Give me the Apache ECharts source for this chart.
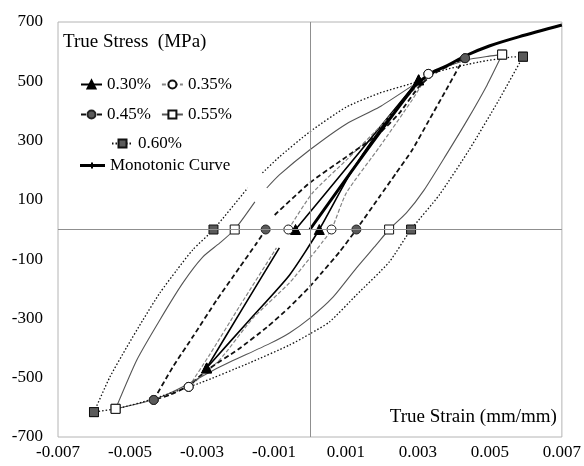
<!DOCTYPE html>
<html>
<head>
<meta charset="utf-8">
<script src="https://cdn.jsdelivr.net/npm/echarts@6/dist/echarts.min.js"></script>
<style>
  html, body { margin: 0; padding: 0; background: #fff; }
  #chart { width: 584px; height: 466px; }
</style>
</head>
<body>
<div id="chart"></div>
<script>
// Cyclic stress-strain hysteresis loops, strain amplitudes 0.30% .. 0.60%.
// Each loop is split into its unloading (down) and reloading (up) branch,
// points are [true strain, true stress in MPa]. null marks a gap in the record.
const GAP = null;

const xTickLabels = ['-0.007', '-0.005', '-0.003', '-0.001', '0.001', '0.003', '0.005', '0.007'];
const yTickLabels = ['-700', '-500', '-300', '-100', '100', '300', '500', '700'];

const monotonic = [[0, 0], [0.0029, 482], [0.0034, 530], [0.0038, 552], [0.00434, 587], [0.005, 620], [0.0058, 650], [0.007, 690]];

const down030 = [[0.00302, 505], [0.00193, 334], [0.0011, 184], [0.00026, 0], [-0.00057, -154], [-0.00168, -305], [-0.00287, -467]];
const up030 = [[-0.00287, -467], [-0.0019, -272], [-0.00085, -62], GAP, [-0.0004, 0], [0.0011, 220], [0.0022, 383], [0.00302, 505]];

const down035 = [[0.00329, 525], [0.00284, 437], [0.00193, 278], [0.00101, 123], [0.0006, 0], [0.00035, -42], [0, -96], [-0.00057, -180], [-0.00159, -300], [-0.00251, -440], [-0.00337, -531]];
const up035 = [[-0.00337, -531], [-0.00279, -423], [-0.00195, -258], [-0.00093, -62], GAP, [-0.0006, 0], [0.00007, 123], [0.00101, 234], [0.00193, 345], [0.00295, 480], [0.00329, 525]];

const down045 = [[0.00431, 578], [0.00414, 548], [0.00378, 470], [0.00331, 369], [0.00284, 268], [0.0024, 191], [0.00193, 110], [0.00129, 0], [0.00082, -76], [0.00035, -143], [0, -192], [-0.00057, -262], [-0.0012, -330], [-0.002, -405], [-0.00287, -475], [-0.00337, -527], [-0.0039, -558], [-0.00434, -575]];
const up045 = [[-0.00434, -575], [-0.00381, -464], [-0.00326, -363], [-0.00259, -238], [-0.00195, -127], [-0.00148, -46], [-0.00123, 0], GAP, [-0.00098, 49], [-0.00001, 157], [0.00101, 245], [0.00193, 325], [0.00248, 392], [0.00302, 480], [0.0034, 522], [0.0039, 555], [0.00431, 578]];

const down055 = [[0.00534, 590], [0.00492, 487], [0.00437, 369], [0.00378, 251], [0.00317, 133], [0.00268, 56], [0.0022, 0], [0.00184, -52], [0.00129, -130], [0.00062, -231], [0, -299], [-0.00057, -349], [-0.00112, -385], [-0.00251, -464], [-0.00337, -520], [-0.0039, -552], [-0.00437, -575], [-0.0054, -605]];
const up055 = [[-0.0054, -605], [-0.00481, -440], [-0.00417, -305], [-0.00353, -180], [-0.00298, -93], [-0.00251, -46], [-0.00209, 0], [-0.00153, 93], GAP, [-0.0012, 140], [-0.00085, 184], [-0.00001, 268], [0.00101, 356], [0.00193, 413], [0.00301, 498], [0.00359, 538], [0.00434, 572], [0.00498, 585], [0.00534, 590]];

const down060 = [[0.00592, 583], [0.00525, 437], [0.00442, 268], [0.00359, 116], [0.00281, 0], [0.0022, -110], [0.00129, -221], [0.00054, -312], [0, -352], [-0.00057, -390], [-0.00168, -450], [-0.00306, -518], [-0.00445, -575], [-0.00528, -602], [-0.006, -616]];
const up060 = [[-0.006, -616], [-0.00556, -498], [-0.00509, -397], [-0.00464, -305], [-0.00417, -214], [-0.0037, -137], [-0.00326, -69], [-0.00268, 0], [-0.00173, 140], GAP, [-0.00132, 191], [-0.00085, 245], [-0.00001, 329], [0.00101, 413], [0.00193, 460], [0.00304, 501], [0.00351, 531], [0.0047, 565], [0.00561, 582], [0.00592, 583]];

const FONT = 'Liberation Serif';

// line / marker look of every strain amplitude
const looks = {
  '0.60%': { line: { color: '#111', width: 1.3, type: [1.5, 2] }, symbol: 'rect', size: 9, item: { color: '#5a5a5a', borderColor: '#111', borderWidth: 1 } },
  '0.55%': { line: { color: '#555', width: 1.1, type: 'solid' }, symbol: 'rect', size: 9, item: { color: '#fff', borderColor: '#111', borderWidth: 1 } },
  '0.45%': { line: { color: '#111', width: 1.8, type: [5, 3] }, symbol: 'circle', size: 9, item: { color: '#5a5a5a', borderColor: '#222', borderWidth: 1 } },
  '0.35%': { line: { color: '#858585', width: 1.2, type: [4, 2] }, symbol: 'circle', size: 9, item: { color: '#fff', borderColor: '#111', borderWidth: 1 } },
  '0.30%': { line: { color: '#000', width: 1.6, type: 'solid' }, symbol: 'triangle', size: 10, item: { color: '#000', borderColor: '#000', borderWidth: 1 } }
};

// markers sit on the loop tips and on the zero-stress crossings
function branch(name, pts) {
  const lk = looks[name];
  const last = pts.length - 1;
  return {
    name: name,
    type: 'line',
    smooth: 0.2,
    connectNulls: false,
    symbol: lk.symbol,
    symbolSize: lk.size,
    itemStyle: lk.item,
    lineStyle: lk.line,
    emphasis: { disabled: true },
    animation: false,
    data: pts.map((p, i) => p === null
      ? { value: ['-', '-'], symbol: 'none' }
      : { value: p, symbol: (i === 0 || i === last || p[1] === 0) ? lk.symbol : 'none' })
  };
}

const series = [
  {
    type: 'line', name: 'zero', data: [], silent: true, z: 1,
    markLine: {
      silent: true, animation: false, symbol: ['none', 'none'], label: { show: false },
      lineStyle: { color: '#8f8f8f', width: 1, type: 'solid' },
      data: [{ xAxis: 0 }, { yAxis: 0 }]
    }
  },
  branch('0.30%', down030), branch('0.30%', up030),
  branch('0.35%', down035), branch('0.35%', up035),
  branch('0.45%', down045), branch('0.45%', up045),
  branch('0.55%', down055), branch('0.55%', up055),
  branch('0.60%', down060), branch('0.60%', up060),
  {
    name: 'Monotonic Curve', type: 'line', smooth: 0.3, symbol: 'none',
    itemStyle: { color: '#000' },
    lineStyle: { color: '#000', width: 3 }, emphasis: { disabled: true }, animation: false,
    data: monotonic, z: 3
  }
];

const legendBase = {
  orient: 'horizontal', selectedMode: false, itemWidth: 21, itemHeight: 10, itemGap: 10,
  textStyle: { fontFamily: FONT, fontSize: 17, color: '#000' }, padding: 0
};

const chart = echarts.init(document.getElementById('chart'), null, { renderer: 'canvas' });
chart.setOption({
  animation: false,
  backgroundColor: '#fff',
  grid: { left: 58, right: 21, top: 22, bottom: 29, show: true, borderColor: '#b4b4b4', borderWidth: 1 },
  xAxis: {
    type: 'value', min: -0.007, max: 0.007, interval: 0.001,
    axisLine: { show: false, onZero: false }, axisTick: { show: false }, splitLine: { show: false },
    axisLabel: {
      margin: 7, fontFamily: FONT, fontSize: 17, color: '#000',
      formatter: v => {
        const s = (Math.round(v * 1000) / 1000).toFixed(3);
        return xTickLabels.includes(s) ? s : '';
      }
    },
    name: 'True Strain (mm/mm)', nameLocation: 'end', nameGap: -5,
    nameTextStyle: { fontFamily: FONT, fontSize: 19, color: '#000', align: 'right', verticalAlign: 'bottom', padding: [0, 0, 10, 0] }
  },
  yAxis: {
    type: 'value', min: -700, max: 700, interval: 100,
    axisLine: { show: false, onZero: false }, axisTick: { show: false }, splitLine: { show: false },
    axisLabel: {
      margin: 15, fontFamily: FONT, fontSize: 17, color: '#000',
      formatter: v => {
        const s = String(Math.round(v));
        return yTickLabels.includes(s) ? s : '';
      }
    },
    name: 'True Stress  (MPa)', nameLocation: 'end', nameGap: -20,
    nameTextStyle: { fontFamily: FONT, fontSize: 19, color: '#000', align: 'left', verticalAlign: 'middle', padding: [0, 0, 0, 5] }
  },
  legend: [
    Object.assign({}, legendBase, { data: ['0.30%', '0.35%'], left: 80, top: 76 }),
    Object.assign({}, legendBase, { data: ['0.45%', '0.55%'], left: 80, top: 106 }),
    Object.assign({}, legendBase, { data: ['0.60%'], left: 111, top: 135 }),
    Object.assign({}, legendBase, {
      data: [{ name: 'Monotonic Curve', icon: 'path://M0,3H25V6H0Z M11,1.5H13V7.5H11Z' }],
      left: 80, top: 157, itemWidth: 25, itemHeight: 8
    })
  ],
  series: series
});
</script>
</body>
</html>
